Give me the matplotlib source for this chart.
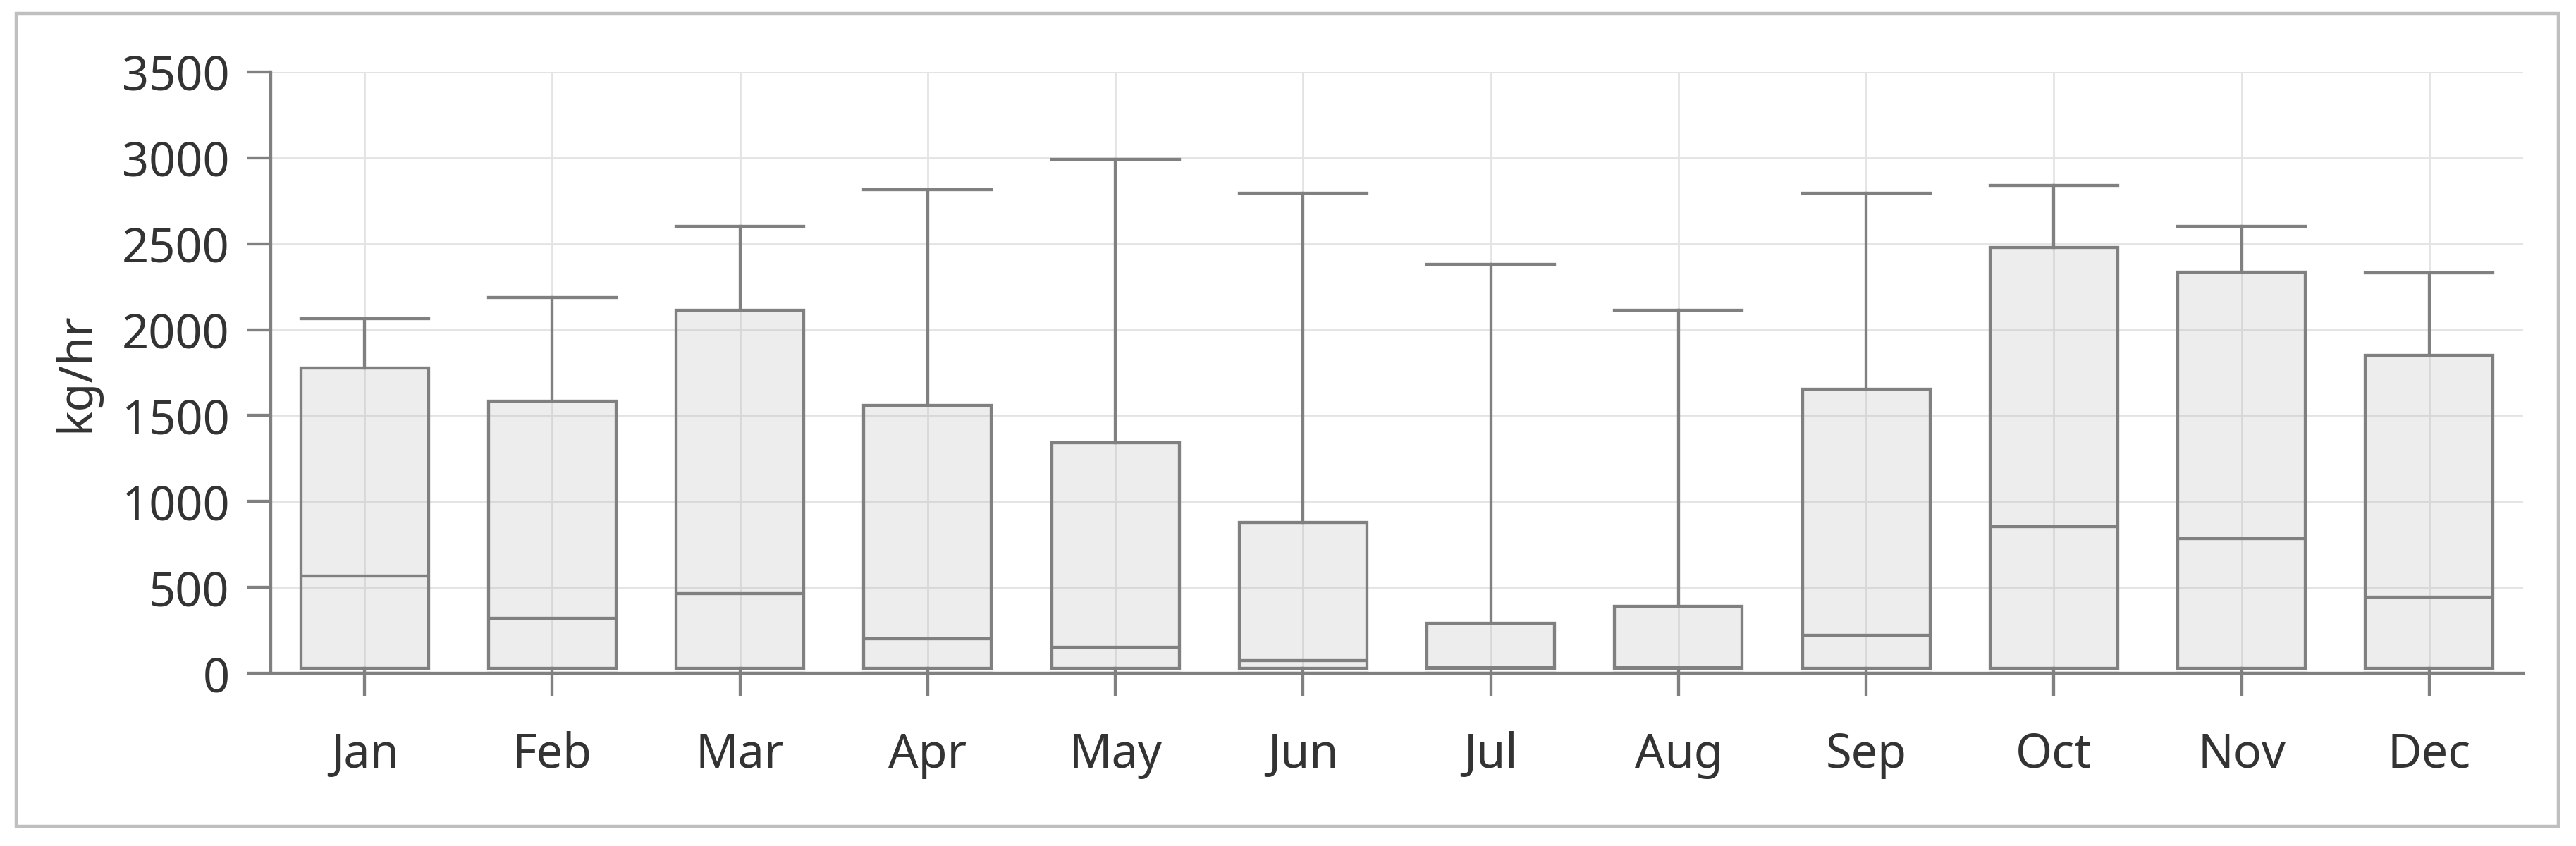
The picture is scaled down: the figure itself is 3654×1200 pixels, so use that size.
import matplotlib
matplotlib.use("Agg")
import matplotlib.pyplot as plt
from matplotlib.patches import Rectangle

plt.rcParams['font.family'] = ['Noto Sans', 'DejaVu Sans']

months = ["Jan", "Feb", "Mar", "Apr", "May", "Jun", "Jul", "Aug", "Sep", "Oct", "Nov", "Dec"]
whisker_low = [0, 0, 0, 0, 0, 0, 0, 0, 0, 0, 0, 0]
q1 = [28, 28, 28, 28, 28, 28, 28, 28, 28, 28, 28, 28]
median = [565, 320, 465, 200, 150, 75, 32, 32, 220, 855, 785, 445]
q3 = [1775, 1585, 2115, 1560, 1340, 880, 290, 390, 1655, 2480, 2335, 1850]
whisker_high = [2065, 2185, 2600, 2815, 2990, 2795, 2380, 2115, 2795, 2840, 2600, 2330]
y_ticks = [0, 500, 1000, 1500, 2000, 2500, 3000, 3500]
y_label = "kg/hr"

W, H, DPI = 3655, 1200, 200
fig = plt.figure(figsize=(W / DPI, H / DPI), dpi=DPI)
fig.patch.set_facecolor("white")

# outer border
fig.patches.append(Rectangle((23 / W, 1 - 1172 / H), (3629 - 23) / W, (1172 - 19) / H,
                             transform=fig.transFigure, fill=False,
                             edgecolor="#bfbfbf", linewidth=1.6, zorder=0))

ax = fig.add_axes([384 / W, 1 - 955 / H, (3579 - 384) / W, (955 - 102) / H])

edge = "#808080"
lw = 1.55
stats = []
for i, m in enumerate(months):
    stats.append(dict(label=m, whislo=whisker_low[i], q1=q1[i], med=median[i],
                      q3=q3[i], whishi=whisker_high[i], fliers=[]))

ax.bxp(stats, positions=range(len(months)), widths=0.68, capwidths=0.68,
       patch_artist=True, showfliers=False,
       boxprops=dict(facecolor=(180 / 255, 180 / 255, 180 / 255, 0.24), edgecolor=edge, linewidth=lw),
       medianprops=dict(color=edge, linewidth=lw),
       whiskerprops=dict(color=edge, linewidth=lw),
       capprops=dict(color=edge, linewidth=lw),
       zorder=3)

ax.set_xlim(-0.5, len(months) - 0.5)
ax.set_ylim(0, 3500)
ax.set_yticks(y_ticks)
ax.set_xticks(range(len(months)))
ax.set_xticklabels(months)

ax.set_axisbelow(True)
ax.grid(True, color="#e3e3e3", linewidth=1.0, zorder=0)

for s in ["top", "right"]:
    ax.spines[s].set_visible(False)
for s in ["left", "bottom"]:
    ax.spines[s].set_color(edge)
    ax.spines[s].set_linewidth(lw)
    ax.spines[s].set_zorder(4)

ax.tick_params(axis="y", length=12, width=lw, color=edge, pad=9,
               labelsize=24, labelcolor="#333333")
ax.tick_params(axis="x", length=11.5, width=lw, color=edge, pad=18,
               labelsize=24, labelcolor="#333333")
ax.set_ylabel(y_label, fontsize=24, color="#333333", labelpad=11)

fig.savefig("out.png", dpi=DPI, facecolor="white")
